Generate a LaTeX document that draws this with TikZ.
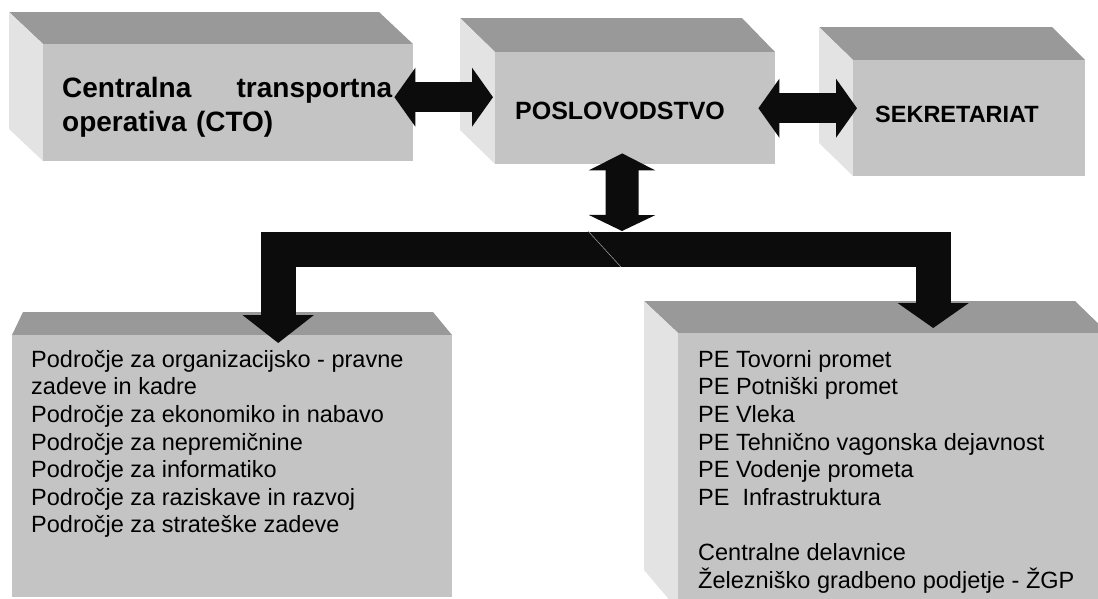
\documentclass[tikz,border=0pt]{standalone}
\usepackage{fontspec}
\setmainfont{Liberation Sans}
\usetikzlibrary{arrows.meta}
\definecolor{facefront}{RGB}{196,196,196}
\definecolor{facetop}{RGB}{153,153,153}
\definecolor{faceside}{RGB}{227,227,227}
\definecolor{arrowfill}{RGB}{12,12,12}
\tikzset{
	face/.style={fill=facefront, inner sep=0pt, anchor=north west},
	topface/.style={fill=facetop},
	sideface/.style={fill=faceside},
	headtext/.style={inner sep=0pt, font=\bfseries\fontsize{#1}{#1}\selectfont},
	listtext/.style={inner sep=0pt, anchor=north west, align=left, font=\fontsize{23.5}{27.6}\selectfont},
	blockarrow/.style={draw=arrowfill, line width=30pt, {Triangle[length=21pt,width=58pt]}-{Triangle[length=21pt,width=58pt]}},
	elbowarrow/.style={draw=arrowfill, line width=35pt}
}
\begin{document}
\begin{tikzpicture}[x=1pt,y=-1pt]
	\useasboundingbox (0,0) rectangle (1098,598);
	\clip (0,0) rectangle (1098,598);
	\fill[topface] (9,12) -- (379,12) -- (413,44) -- (43,44) -- cycle;
	\fill[sideface] (9,12) -- (43,44) -- (43,161) -- (9,129) -- cycle;
	\node[face, minimum width=370pt, minimum height=117pt] (cto) at (43,44) {};
	\fill[topface] (460,18) -- (742,18) -- (775,52) -- (495,52) -- cycle;
	\fill[sideface] (460,18) -- (495,52) -- (495,164) -- (460,130) -- cycle;
	\node[face, minimum width=280pt, minimum height=112pt] (posl) at (495,52) {};
	\fill[topface] (819,27) -- (1052,27) -- (1085,60) -- (853,60) -- cycle;
	\fill[sideface] (819,27) -- (853,60) -- (853,176) -- (819,143) -- cycle;
	\node[face, minimum width=232pt, minimum height=116pt] (sek) at (853,60) {};
	\fill[topface] (23,312) -- (433,312) -- (452,335) -- (12,335) -- cycle;
	\node[face, minimum width=440pt, minimum height=262pt] (bl) at (12,335) {};
	\fill[topface] (644,301) -- (1075,301) -- (1108,333) -- (678,333) -- cycle;
	\fill[sideface] (644,301) -- (678,333) -- (678,610) -- (644,570) -- cycle;
	\node[face, minimum width=440pt, minimum height=280pt] (br) at (678,333) {};
	\node[headtext=28, font=\bfseries\fontsize{28}{34}\selectfont, anchor=north west, text width=330pt, align=left] (ctotext) at (62,77)
		{\hbox to 330pt{Centralna\hfill transportna}\\operativa (CTO)};
	\node[headtext=25, anchor=base] (posltext) at (620,119) {POSLOVODSTVO};
	\node[headtext=23.5, anchor=base] (sektext) at (957,122) {SEKRETARIAT};
	\node[listtext] (podrocja) at (31,350) {Področje za organizacijsko - pravne\\zadeve in kadre\\Področje za ekonomiko in nabavo\\Področje za nepremičnine\\Področje za informatiko\\Področje za raziskave in razvoj\\Področje za strateške zadeve};
	\node[listtext] (enote) at (698,350) {PE Tovorni promet\\PE Potniški promet\\PE Vleka\\PE Tehnično vagonska dejavnost\\PE Vodenje prometa\\PE\ \ Infrastruktura\\[27.6pt]Centralne delavnice\\Železniško gradbeno podjetje - ŽGP};
	\coordinate (split) at (622,249);
	\draw[blockarrow] ([xshift=-19pt,yshift=5.5pt]cto.east) -- ([xshift=-2pt,yshift=11pt]posl.west);
	\draw[blockarrow] ([xshift=-17pt]posl.east) -- ([xshift=4pt,yshift=10pt]sek.west);
	\draw[draw=arrowfill, line width=33pt, {Triangle[length=17pt,width=66pt]}-{Triangle[length=16pt,width=66pt]}]
		([xshift=-13pt,yshift=11pt]posl.south) -- ([yshift=18pt]split);
	\draw[elbowarrow, -{Triangle[length=28pt,width=70pt]}] (split) -| ([xshift=46pt,yshift=-8pt]bl.north);
	\draw[elbowarrow, -{Triangle[length=25pt,width=70pt]}] (split) -| ([xshift=35pt,yshift=5pt]br.north);
	\draw[gray!70, line width=0.5pt] (588,231) -- (621,267);
\end{tikzpicture}
\end{document}
